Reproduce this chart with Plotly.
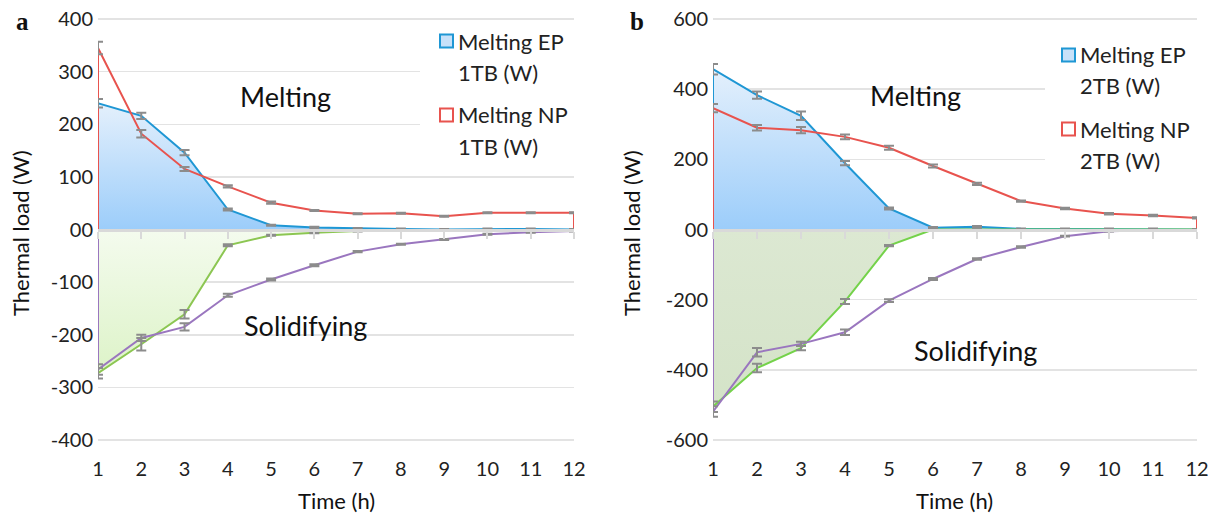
import plotly.graph_objects as go

W, H = 1219, 516
OFF = 0  # page body margin removed via post_script
hours = list(range(1, 13))

# Panel a (1TB)
ep_melt_1 = [240, 216, 146, 38, 8, 4, 2, 1, 0, 1, 1, 0]
ep_melt_1_err = [8, 6, 5, 2, 1, 1, 1, 1, 1, 1, 1, 1]
np_melt_1 = [345, 182, 115, 82, 51, 36, 30, 31, 25, 32, 32, 32]
np_melt_1_err = [12, 7, 4, 2, 2, 1, 1, 1, 1, 1, 1, 1]
ep_sol_1 = [-273, -218, -161, -30, -11, -6, -3, -2, -2, -2, -2, -2]
ep_sol_1_err = [10, 12, 8, 2, 1, 1, 1, 1, 1, 1, 1, 1]
np_sol_1 = [-266, -206, -185, -125, -95, -68, -42, -28, -19, -9, -5, -3]
np_sol_1_err = [10, 6, 7, 3, 2, 2, 1, 1, 1, 1, 1, 1]

# Panel b (2TB)
ep_melt_2 = [457, 383, 324, 189, 60, 5, 8, 2, 2, 2, 2, 0]
ep_melt_2_err = [15, 10, 12, 6, 3, 2, 2, 1, 1, 1, 1, 1]
np_melt_2 = [346, 290, 283, 264, 233, 181, 130, 81, 60, 45, 40, 33]
np_melt_2_err = [12, 8, 9, 7, 6, 4, 3, 2, 2, 2, 2, 2]
ep_sol_2 = [-505, -395, -338, -205, -46, 0, 0, 0, 0, 0, 0, 0]
ep_sol_2_err = [15, 12, 6, 7, 2, 1, 1, 1, 1, 1, 1, 1]
np_sol_2 = [-519, -350, -326, -293, -203, -141, -84, -50, -19, -5, -2, -2]
np_sol_2_err = [15, 12, 6, 8, 4, 3, 2, 2, 1, 1, 1, 1]

y_ticks_a = [400, 300, 200, 100, 0, -100, -200, -300, -400]
y_ticks_b = [600, 400, 200, 0, -200, -400, -600]

BLUE = "#1f97d4"
RED = "#e8534e"
GREEN_A = "#8cc652"
GREEN_B = "#74d24a"
PURPLE = "#9a76bf"
ERR = "#8c8c8c"
FONT = "Lato"

def px(x):
    return (x - OFF) / W

def py(y):
    return 1 - (y - OFF) / H

fig = go.Figure()

def closed(xs, ys):
    return [xs[0]] + list(xs) + [xs[-1]], [0] + list(ys) + [0]

def add_area(xs, ys, color, xa, ya, grad=None):
    cx, cy = closed(xs, ys)
    kw = {}
    if grad is not None:
        kw = dict(fill="toself", fillgradient=dict(type="vertical", colorscale=grad))
    fig.add_trace(go.Scatter(x=cx, y=cy, mode="lines", line=dict(color=color, width=2),
                             xaxis=xa, yaxis=ya, showlegend=False, hoverinfo="skip", **kw))

def add_err(xs, ys, err, xa, ya):
    fig.add_trace(go.Scatter(x=xs, y=ys, mode="markers", marker=dict(size=1, color="rgba(0,0,0,0)"),
                             error_y=dict(type="data", array=err, color=ERR, thickness=2, width=5),
                             xaxis=xa, yaxis=ya, showlegend=False))

# Panel a
add_area(hours, ep_melt_1, BLUE, "x", "y", [[0, "#9ccdfa"], [1, "#e4f0fc"]])
add_area(hours, ep_sol_1, GREEN_A, "x", "y", [[0, "#ddf3c8"], [1, "#f4fbee"]])
add_area(hours, np_melt_1, RED, "x", "y")
add_area(hours, np_sol_1, PURPLE, "x", "y")
for ys, er in [(ep_melt_1, ep_melt_1_err), (np_melt_1, np_melt_1_err),
               (ep_sol_1, ep_sol_1_err), (np_sol_1, np_sol_1_err)]:
    add_err(hours, ys, er, "x", "y")

# Panel b
add_area(hours, ep_melt_2, BLUE, "x2", "y2", [[0, "#9ccdfa"], [1, "#e4f0fc"]])
add_area(hours, ep_sol_2, GREEN_B, "x2", "y2", [[0, "#d4e3c8"], [1, "#dce8d2"]])
add_area(hours, np_melt_2, RED, "x2", "y2")
add_area(hours, np_sol_2, PURPLE, "x2", "y2")
for ys, er in [(ep_melt_2, ep_melt_2_err), (np_melt_2, np_melt_2_err),
               (ep_sol_2, ep_sol_2_err), (np_sol_2, np_sol_2_err)]:
    add_err(hours, ys, er, "x2", "y2")

ax_a = [px(98), px(574)]
ax_b = [px(713), px(1197)]
# zero at pixel 229.5; top tick at pixel 19, bottom tick at 440 -> pad 3px each side
Y0, HALF, PAD = 229.5, 210.5, 3
yd = [py(Y0 + HALF + PAD), py(Y0 - HALF - PAD)]
ext = (HALF + PAD) / HALF
zero_pos = py(Y0)

tickfont = dict(family=FONT, size=20, color="#222")
xcommon = dict(range=[1, 12], tickvals=hours, showgrid=False, zeroline=False, showline=False,
               ticks="", tickfont=tickfont, fixedrange=True, automargin=False,
               ticklabelstandoff=12, ticklabeloverflow="allow")
ycommon = dict(showgrid=True, gridcolor="#e3e3e3", gridwidth=1.5, zeroline=False, showline=False,
               ticks="", tickfont=tickfont, fixedrange=True, automargin=False,
               ticklabelstandoff=4, ticklabeloverflow="allow")

def ticktext(vals):
    return ["00" if v == 0 else str(v) for v in vals]

zaxis = dict(anchor="free", position=zero_pos, range=[1, 12], tickvals=hours,
             showticklabels=False, ticks="outside", ticklen=7, tickwidth=2, tickcolor="#d9d9d9",
             showline=True, linecolor="#d9d9d9", linewidth=3, showgrid=False, zeroline=False,
             fixedrange=True, automargin=False)

fig.update_layout(
    width=W, height=H, margin=dict(l=0, r=0, t=0, b=0, autoexpand=False),
    paper_bgcolor="white", plot_bgcolor="white", showlegend=False,
    xaxis=dict(domain=ax_a, anchor="y", **xcommon),
    yaxis=dict(domain=yd, anchor="x", range=[-400 * ext, 400 * ext], tickvals=y_ticks_a,
               ticktext=ticktext(y_ticks_a), **ycommon),
    xaxis2=dict(domain=ax_b, anchor="y2", **xcommon),
    yaxis2=dict(domain=yd, anchor="x2", range=[-600 * ext, 600 * ext], tickvals=y_ticks_b,
                ticktext=ticktext(y_ticks_b), **ycommon),
    xaxis3=dict(overlaying="x", **zaxis),
    xaxis4=dict(overlaying="x2", **zaxis),
)
# dummy traces to make overlay axes render
fig.add_trace(go.Scatter(x=[None], y=[None], xaxis="x3", yaxis="y", showlegend=False))
fig.add_trace(go.Scatter(x=[None], y=[None], xaxis="x4", yaxis="y2", showlegend=False))

shapes = []
anns = []
# white legend backgrounds (hide gridlines)
for x0, y0, x1, y1 in [(420, 26, 580, 168), (1045, 36, 1205, 172)]:
    shapes.append(dict(type="rect", xref="paper", yref="paper", x0=px(x0), x1=px(x1),
                       y0=py(y1), y1=py(y0), fillcolor="white", line=dict(width=0), layer="above"))

def legend(xsq, ytop, tb):
    sz = 13
    items = [(ytop, "#c7e1f9", BLUE, "Melting EP"), (ytop + 74, "white", RED, "Melting NP")]
    for yc, fc, lc, label in items:
        shapes.append(dict(type="rect", xref="paper", yref="paper", x0=px(xsq), x1=px(xsq + sz),
                           y0=py(yc + sz / 2), y1=py(yc - sz / 2), fillcolor=fc,
                           line=dict(color=lc, width=2), layer="above"))
        anns.append(dict(x=px(xsq + sz + 3), y=py(yc), xref="paper", yref="paper", text=label,
                         showarrow=False, xanchor="left", yanchor="middle",
                         font=dict(family=FONT, size=22, color="#222")))
        anns.append(dict(x=px(xsq + sz + 3), y=py(yc + 31), xref="paper", yref="paper",
                         text=f"{tb} (W)", showarrow=False, xanchor="left", yanchor="middle",
                         font=dict(family=FONT, size=22, color="#222")))

legend(440, 41, "1TB")
legend(1062, 55, "2TB")

def text(x, y, s, size, **kw):
    anns.append(dict(x=px(x), y=py(y), xref="paper", yref="paper", text=s, showarrow=False,
                     xanchor="center", yanchor="middle", font=dict(family=kw.get("family", FONT),
                     size=size, color="#111"), textangle=kw.get("angle", 0)))

text(285, 96, "Melting", 27)
text(305, 325, "Solidifying", 27)
text(915, 95, "Melting", 27)
text(975, 350, "Solidifying", 27)
text(336, 500, "Time (h)", 22)
text(955, 500, "Time (h)", 22)
text(20, 233, "Thermal load (W)", 22, angle=-90)
text(631, 233, "Thermal load (W)", 22, angle=-90)
text(22, 22, "<b>a</b>", 25, family="Liberation Serif")
text(637, 22, "<b>b</b>", 25, family="Liberation Serif")

fig.update_layout(shapes=shapes, annotations=anns)
fig.write_html("out.html", config={"displayModeBar": False, "staticPlot": True},
               post_script="document.body.style.margin='0';document.body.style.overflow='hidden';")
